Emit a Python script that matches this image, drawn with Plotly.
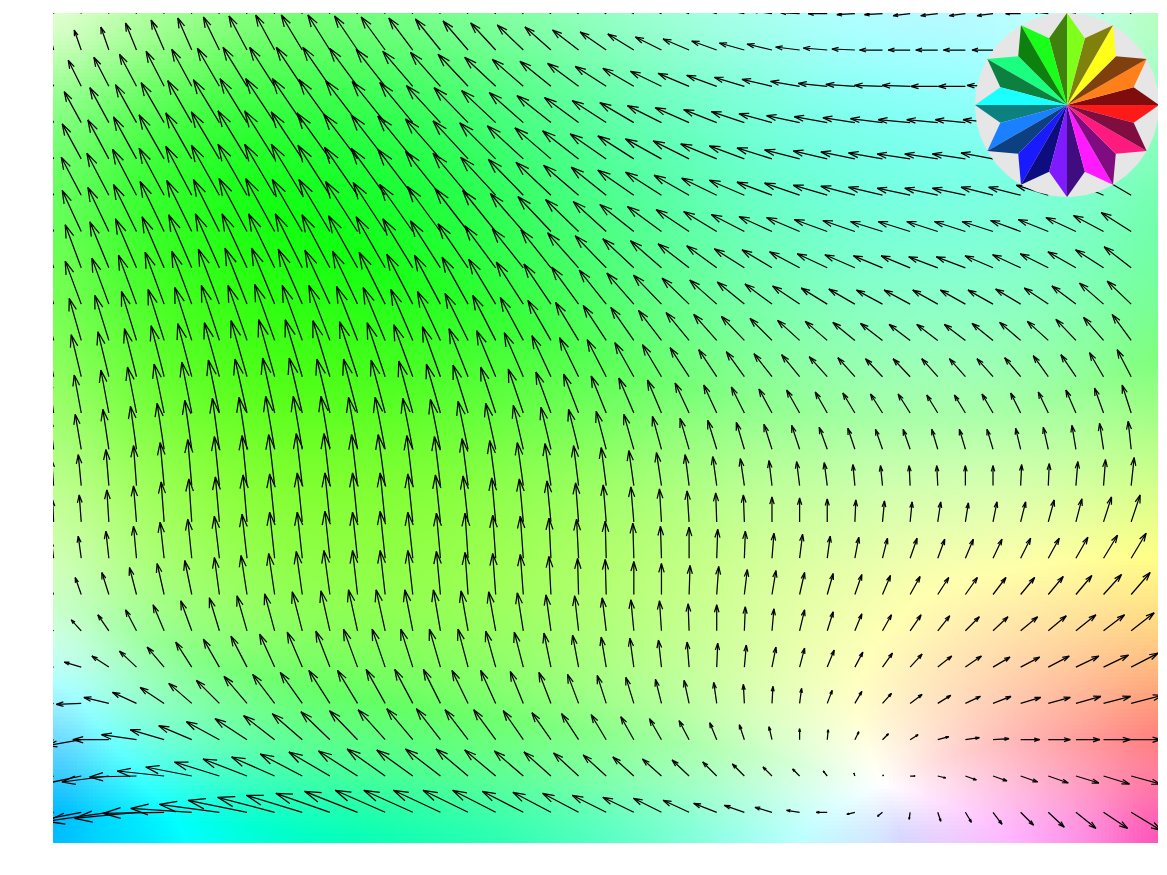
import math
import numpy as np
import plotly.graph_objects as go

# Arrow components, one row per grid row (top to bottom), 40 columns.
arrow_u = [
[1,-2,-4,-6,-8,-10,-12,-14,-15,-16,-17,-18,-19,-20,-20,-20,-20,-21,-21,-21,-21,-21,-20,-20,-20,-20,-20,-19,-19,-18,-18,-17,-17,-16,-16,-15,-15,-15,-14,-12],
[-4,-7,-8,-11,-13,-14,-16,-18,-19,-21,-22,-23,-24,-24,-25,-25,-25,-26,-26,-26,-26,-26,-26,-26,-25,-25,-25,-24,-24,-23,-23,-22,-22,-22,-21,-20,-20,-19,-17,-15],
[-11,-13,-15,-17,-18,-20,-22,-24,-25,-26,-27,-28,-29,-30,-30,-30,-31,-31,-31,-31,-31,-31,-31,-31,-30,-30,-30,-29,-29,-29,-28,-28,-27,-27,-26,-26,-25,-24,-22,-20],
[-15,-17,-19,-21,-23,-24,-26,-27,-29,-30,-31,-32,-33,-33,-34,-34,-34,-34,-34,-34,-34,-34,-34,-34,-33,-33,-33,-33,-33,-32,-32,-32,-31,-30,-30,-29,-28,-27,-26,-24],
[-17,-19,-21,-23,-25,-26,-28,-29,-30,-31,-33,-34,-34,-35,-35,-35,-36,-36,-36,-36,-36,-36,-36,-36,-36,-35,-35,-35,-34,-34,-34,-33,-33,-33,-32,-32,-31,-30,-28,-27],
[-18,-20,-22,-24,-25,-26,-28,-29,-30,-31,-32,-33,-34,-35,-35,-35,-35,-35,-35,-35,-35,-36,-36,-35,-35,-35,-35,-35,-34,-34,-34,-33,-33,-33,-32,-32,-32,-31,-30,-29],
[-16,-19,-21,-23,-24,-25,-26,-28,-29,-30,-31,-32,-32,-33,-33,-33,-33,-33,-33,-33,-33,-34,-34,-33,-33,-33,-33,-33,-33,-32,-32,-32,-31,-31,-31,-30,-30,-30,-30,-30],
[-13,-16,-19,-21,-22,-23,-24,-25,-26,-27,-28,-29,-29,-30,-30,-30,-31,-31,-30,-31,-31,-31,-31,-31,-30,-30,-30,-30,-30,-30,-29,-29,-29,-29,-28,-28,-28,-28,-28,-27],
[-12,-16,-17,-18,-19,-20,-21,-22,-23,-24,-25,-25,-26,-26,-26,-26,-27,-27,-27,-27,-27,-27,-28,-27,-27,-27,-27,-27,-26,-26,-26,-26,-25,-25,-25,-25,-24,-24,-24,-24],
[-10,-12,-14,-15,-16,-17,-18,-19,-20,-20,-21,-21,-22,-22,-23,-23,-23,-23,-23,-23,-23,-23,-23,-23,-23,-23,-22,-22,-22,-22,-22,-21,-21,-21,-21,-21,-21,-20,-20,-19],
[-8,-10,-11,-12,-13,-14,-15,-16,-16,-17,-17,-18,-18,-19,-18,-19,-19,-19,-19,-19,-19,-19,-19,-19,-18,-18,-18,-18,-18,-17,-17,-17,-16,-16,-16,-16,-15,-15,-14,-14],
[-5,-7,-8,-9,-10,-10,-11,-12,-12,-13,-13,-14,-14,-14,-14,-15,-15,-15,-15,-15,-15,-15,-14,-14,-13,-13,-13,-13,-12,-12,-12,-12,-11,-11,-11,-10,-10,-10,-9,-9],
[-4,-6,-6,-6,-7,-7,-7,-8,-9,-9,-9,-9,-10,-10,-10,-10,-10,-10,-10,-10,-10,-10,-9,-9,-9,-8,-8,-8,-8,-7,-7,-7,-6,-6,-6,-5,-5,-4,-4,-3],
[-2,-3,-3,-3,-4,-4,-5,-5,-6,-6,-6,-6,-7,-6,-6,-6,-6,-6,-6,-5,-5,-5,-5,-4,-4,-4,-3,-3,-3,-2,-2,-1,-1,0,0,1,1,2,2,3],
[-1,-2,-2,-3,-3,-3,-4,-4,-5,-5,-5,-5,-5,-5,-5,-5,-4,-4,-4,-3,-3,-3,-2,-2,-1,-1,0,0,0,1,2,2,3,3,4,5,6,6,8,9],
[-2,-3,-3,-3,-4,-4,-5,-5,-5,-5,-5,-5,-5,-5,-4,-3,-3,-3,-2,-2,-1,-1,-1,0,1,1,2,3,3,4,5,7,7,8,9,10,11,12,14,15],
[-5,-6,-7,-7,-7,-7,-5,-6,-6,-6,-6,-5,-5,-5,-4,-3,-3,-3,-2,-1,-1,0,0,1,2,3,4,5,6,7,8,10,11,12,13,14,15,16,18,19],
[-9,-10,-11,-11,-11,-11,-10,-10,-10,-10,-9,-9,-9,-8,-7,-7,-7,-6,-5,-4,-4,-3,-2,-1,0,1,2,5,6,7,9,11,12,14,15,17,18,20,21,23],
[-16,-17,-17,-17,-17,-16,-16,-16,-15,-15,-14,-14,-13,-12,-11,-10,-10,-9,-7,-6,-5,-4,-3,-2,1,2,4,5,7,8,10,12,14,16,17,19,21,23,25,27],
[-25,-25,-25,-24,-24,-23,-23,-23,-22,-22,-21,-20,-19,-18,-17,-16,-15,-13,-12,-11,-9,-8,-6,-5,-3,-1,1,2,5,7,9,12,13,15,18,20,22,25,27,31],
[-34,-34,-36,-35,-34,-33,-33,-32,-31,-30,-29,-28,-27,-26,-24,-23,-22,-20,-19,-17,-15,-13,-12,-10,-7,-5,-3,0,1,4,6,8,11,14,16,19,22,24,27,30],
[-47,-47,-47,-47,-47,-46,-45,-44,-43,-42,-41,-39,-38,-36,-35,-32,-31,-29,-27,-25,-23,-21,-19,-17,-14,-12,-9,-7,-4,-1,1,5,8,11,14,17,20,23,26,29],
[-62,-62,-62,-62,-61,-61,-60,-59,-57,-56,-54,-53,-50,-49,-47,-45,-43,-41,-38,-36,-34,-31,-28,-26,-23,-20,-17,-13,-11,-8,-5,-1,3,6,9,13,16,20,24,30],
]
arrow_v = [
[6,12,16,19,22,24,26,27,28,28,28,27,26,25,24,22,21,19,17,15,13,11,10,8,6,4,3,1,0,-1,-1,-2,-2,-2,-2,0,2,4,7,12],
[16,20,23,27,30,32,33,34,35,35,35,34,33,32,31,29,27,25,23,20,18,16,13,11,9,7,6,3,2,1,0,0,0,0,0,0,2,4,7,11],
[22,26,29,32,35,37,38,39,39,39,39,38,37,35,34,32,29,27,25,23,20,18,15,13,11,9,7,5,3,2,1,1,0,0,1,1,3,5,8,12],
[27,31,35,38,40,42,43,44,44,44,43,42,41,40,37,35,32,30,27,25,22,20,17,15,13,11,9,7,6,5,4,3,3,3,3,4,5,7,9,13],
[31,35,39,42,44,46,47,48,48,47,46,45,44,43,40,38,36,33,31,28,25,23,20,18,15,13,11,9,8,7,6,5,5,5,6,7,8,10,12,15],
[34,38,42,46,47,49,50,51,51,51,50,48,47,46,44,42,38,36,33,30,28,25,23,20,17,15,13,12,10,9,8,7,7,7,8,8,10,11,13,17],
[37,41,44,47,50,51,52,53,53,52,52,50,49,47,45,43,41,38,35,32,30,27,25,22,20,17,15,14,12,11,10,10,10,10,10,11,12,14,16,19],
[39,43,46,49,51,53,54,54,54,54,53,52,51,49,47,44,42,39,38,35,32,29,27,24,22,19,18,16,14,13,12,12,11,11,12,13,14,16,18,21],
[40,43,46,49,52,53,55,56,56,55,54,53,52,50,49,47,45,42,40,37,34,31,29,26,24,22,20,18,16,15,14,14,14,14,14,15,16,18,21,23],
[38,42,45,49,51,53,55,55,56,55,55,54,53,51,49,47,45,43,40,38,35,33,30,28,26,24,22,20,19,18,17,16,16,16,17,18,19,21,23,26],
[38,42,45,48,51,53,54,56,57,57,56,55,54,52,50,48,46,44,41,39,37,34,32,29,27,25,23,22,20,19,18,18,18,18,18,19,21,22,24,27],
[34,38,43,46,49,51,53,54,55,55,54,54,53,52,49,48,46,44,41,39,37,35,33,30,28,26,24,23,21,20,19,19,18,18,19,20,21,23,25,28],
[31,35,40,43,46,49,51,52,53,53,53,52,52,51,50,48,46,44,42,40,38,35,33,31,29,27,25,24,22,21,20,20,20,20,20,21,22,24,26,28],
[26,31,36,40,43,46,49,50,51,52,52,51,51,50,49,47,45,43,42,40,38,35,33,31,29,27,25,24,23,21,20,20,20,20,20,21,22,24,26,28],
[22,27,32,36,40,43,45,47,48,49,49,49,49,48,47,46,44,43,41,39,37,35,33,31,29,27,25,24,23,22,21,20,20,19,20,20,22,23,25,27],
[16,22,27,32,36,39,42,44,46,46,47,46,47,46,45,45,43,42,40,39,37,35,32,31,29,27,25,24,22,21,20,20,19,19,19,20,20,21,23,25],
[11,17,22,27,31,34,37,39,41,43,44,44,44,44,43,42,41,40,38,36,35,33,31,29,28,25,24,22,21,20,19,18,17,17,17,17,18,19,20,22],
[6,11,16,21,26,30,33,35,37,39,40,41,41,41,41,40,39,38,36,35,33,31,30,27,26,24,22,21,19,17,16,16,15,14,14,14,15,16,16,18],
[1,5,11,16,20,25,28,31,33,35,36,38,38,38,38,38,36,35,34,32,30,29,27,25,24,22,20,19,17,15,14,13,11,11,10,10,11,11,12,14],
[-6,-1,6,11,16,20,23,27,29,31,33,33,34,34,34,33,33,32,31,29,28,26,24,23,21,19,17,15,13,12,10,9,8,7,7,6,6,7,7,8],
[-14,-6,0,5,10,14,18,21,24,26,28,29,30,31,31,30,30,29,27,26,25,23,21,19,17,15,13,11,10,8,6,5,3,2,1,0,0,0,0,0],
[-18,-10,-6,-1,5,9,14,17,19,22,24,25,27,26,27,27,26,25,24,23,21,19,17,16,14,12,9,7,5,3,1,0,-2,-4,-5,-6,-7,-7,-8,-8],
[-22,-12,-9,-6,-1,4,8,12,15,17,19,21,22,22,22,22,22,21,20,19,17,15,14,12,9,7,5,2,0,-2,-4,-7,-9,-10,-12,-13,-15,-16,-16,-18],
]
wheel_tip_angles = [0, 30, 60, 90, 120, 150, 180, 210, 240, 270, 300, 330]

U = np.array(arrow_u, dtype=float)
V = np.array(arrow_v, dtype=float)
rows, cols = U.shape
assert all(len(r) == 40 for r in arrow_u + arrow_v) and rows == 23 and len(arrow_v) == 23

LEFT, RIGHT, TOP, BOTTOM = 53.0, 1158.0, 13.0, 843.0
X0, Y0, DX, DY = 53.6, 13.7, 27.63, 36.3
grid_x = X0 + DX * np.arange(cols)
grid_y = Y0 + DY * np.arange(rows)

# ---- background colour: hue = direction, paleness = length ----
CELL = 4.0
px = np.arange(LEFT + CELL / 2, RIGHT + CELL, CELL)
py = np.arange(TOP + CELL / 2, BOTTOM + CELL, CELL)


def resample(field):
    fx = (px - X0) / DX
    fy = (py - Y0) / DY
    i = np.clip(np.floor(fx).astype(int), 0, cols - 2)
    j = np.clip(np.floor(fy).astype(int), 0, rows - 2)
    wx = (fx - i)[None, :]
    wy = (fy - j)[:, None]
    a = field[np.ix_(j, i)]
    b = field[np.ix_(j, i + 1)]
    c = field[np.ix_(j + 1, i)]
    d = field[np.ix_(j + 1, i + 1)]
    return (a * (1 - wx) + b * wx) * (1 - wy) + (c * (1 - wx) + d * wx) * wy


def soften(a, n=5, passes=3):
    k = np.ones(2 * n + 1) / (2 * n + 1)
    for _ in range(passes):
        a = np.pad(a, ((0, 0), (n, n)), mode="edge")
        a = np.apply_along_axis(lambda r: np.convolve(r, k, mode="valid"), 1, a)
        a = np.pad(a, ((n, n), (0, 0)), mode="edge")
        a = np.apply_along_axis(lambda r: np.convolve(r, k, mode="valid"), 0, a)
    return a


FU = soften(resample(U))
FV = soften(resample(V))
hue = np.degrees(np.arctan2(FV, FU)) % 360
mix = np.clip(np.hypot(FU, FV) / 64.0, 0, 1)
pure = np.stack([
    np.clip(np.abs(hue / 60 - 3) - 1, 0, 1),
    np.clip(2 - np.abs(hue / 60 - 2), 0, 1),
    np.clip(2 - np.abs(hue / 60 - 4), 0, 1),
], axis=-1)
rgb = (255 * (pure * mix[..., None] + (1 - mix[..., None]))).round().astype(int)

fig = go.Figure()
fig.add_trace(go.Image(z=rgb.tolist(), x0=px[0], dx=CELL, y0=py[0], dy=CELL,
                       zsmooth="fast", hoverinfo="skip"))

# ---- arrows ----
xs, ys = [], []
HEAD = 0.3
SPREAD = math.radians(17)
for j in range(rows):
    for k in range(cols):
        u, v = U[j, k], -V[j, k]
        x0, y0 = grid_x[k], grid_y[j]
        x1, y1 = x0 + u, y0 + v
        ang = math.atan2(v, u)
        bl = HEAD * math.hypot(u, v)
        xs += [x0, x1, x1 - bl * math.cos(ang - SPREAD), None,
               x1, x1 - bl * math.cos(ang + SPREAD), None]
        ys += [y0, y1, y1 - bl * math.sin(ang - SPREAD), None,
               y1, y1 - bl * math.sin(ang + SPREAD), None]
fig.add_trace(go.Scatter(x=xs, y=ys, mode="lines", hoverinfo="skip",
                         line=dict(color="#000000", width=1.25), showlegend=False))

# ---- colour wheel ----
CX, CY, R_OUT, R_IN = 1067.0, 105.0, 92.0, 69.0
t = np.linspace(0, 2 * np.pi, 181)
fig.add_trace(go.Scatter(x=CX + R_OUT * np.cos(t), y=CY + R_OUT * np.sin(t), mode="lines",
                         fill="toself", fillcolor="#e6e6e6", line=dict(width=0),
                         hoverinfo="skip", showlegend=False))


def hue_rgb(h, value):
    s = [max(0.1, min(1.0, abs(h / 60 - 3) - 1)),
         max(0.1, min(1.0, 2 - abs(h / 60 - 2))),
         max(0.1, min(1.0, 2 - abs(h / 60 - 4)))]
    return "rgb(%d,%d,%d)" % tuple(round(255 * value * c) for c in s)


for a in wheel_tip_angles:
    for other, value in ((a - 15, 1.0), (a + 15, 0.5)):
        ra, rb = math.radians(a), math.radians(other)
        fig.add_trace(go.Scatter(
            x=[CX, CX + R_OUT * math.cos(ra), CX + R_IN * math.cos(rb), CX],
            y=[CY, CY - R_OUT * math.sin(ra), CY - R_IN * math.sin(rb), CY],
            mode="lines", fill="toself", fillcolor=hue_rgb(a, value),
            line=dict(width=0), hoverinfo="skip", showlegend=False))

fig.update_layout(
    width=1159, height=867, margin=dict(l=45, r=9, t=5, b=32),
    paper_bgcolor="white", plot_bgcolor="white", showlegend=False,
    xaxis=dict(range=[LEFT, RIGHT], visible=False, constrain="domain"),
    yaxis=dict(range=[BOTTOM, TOP], visible=False),
)
fig.write_html("out.html")
